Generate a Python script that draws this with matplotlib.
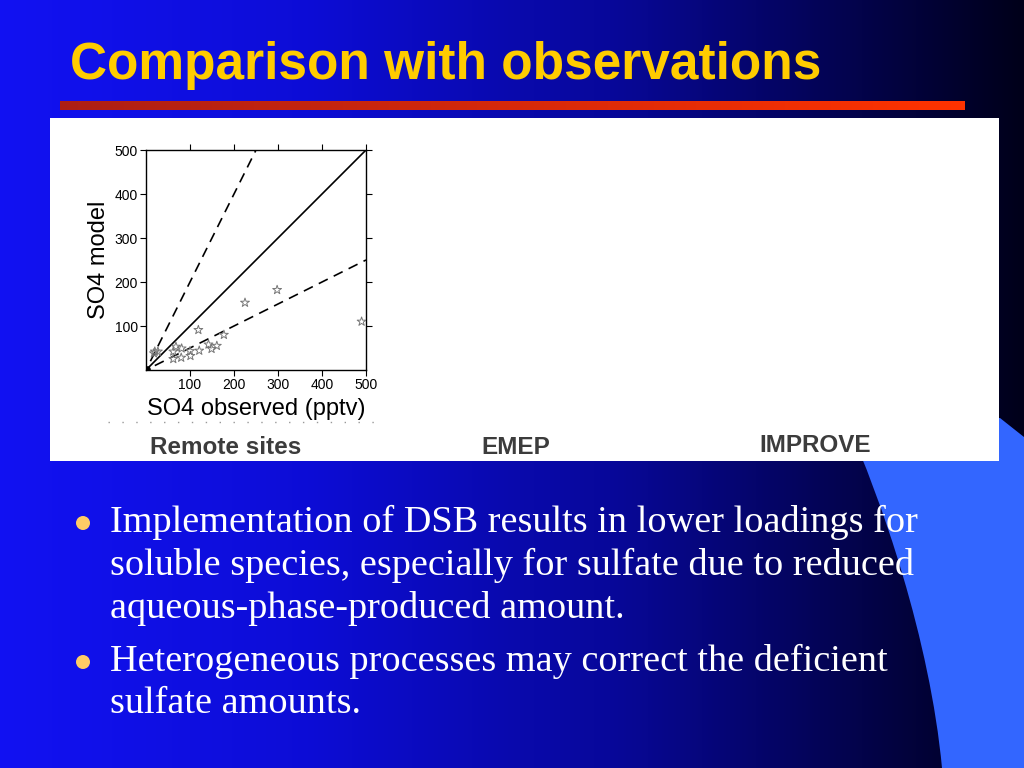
import numpy as np
import matplotlib.pyplot as plt
from matplotlib.patches import Rectangle, Circle, PathPatch
from matplotlib.path import Path

# remote-site sulfate, observed vs model (pptv)
so4_obs = [18, 27, 20, 62, 80, 62, 68, 81, 100, 101, 121, 119, 142, 149, 161, 177, 225, 298, 490]
so4_mod = [38, 42, 42, 25, 28, 42, 53, 49, 43, 32, 44, 91, 58, 48, 55, 80, 153, 182, 110]
zero_obs = [2]
zero_mod = [2]
ticks = [100, 200, 300, 400, 500]

title = "Comparison with observations"
panel_labels = ["Remote sites", "EMEP", "IMPROVE"]
bullets = [
    ["Implementation of DSB results in lower loadings for",
     "soluble species, especially for sulfate due to reduced",
     "aqueous-phase-produced amount."],
    ["Heterogeneous processes may correct the deficient",
     "sulfate amounts."],
]

W, H = 1024, 768
fig = plt.figure(figsize=(W / 100, H / 100), dpi=100)

# slide background, in pixel coordinates
bg = fig.add_axes([0, 0, 1, 1])
bg.set_xlim(0, W)
bg.set_ylim(H, 0)
bg.axis('off')

xs = np.linspace(0, 1, 512)
blue = np.interp(xs, [0, 0.3, 0.6, 0.85, 1], [0.95, 0.84, 0.6, 0.28, 0.1])
red = np.interp(xs, [0, 0.3, 0.6, 1], [0.07, 0.05, 0.03, 0.0])
grad = np.zeros((2, 512, 3))
grad[:, :, 0] = red
grad[:, :, 1] = red
grad[:, :, 2] = blue
bg.imshow(grad, extent=[0, W, H, 0], aspect='auto', zorder=0)

# light blue swoosh on the right
verts = [(845, 418), (882, 500), (930, 640), (942, 768),
         (1024, 768), (1024, 437), (1000, 418), (845, 418)]
codes = [Path.MOVETO, Path.CURVE4, Path.CURVE4, Path.CURVE4,
         Path.LINETO, Path.LINETO, Path.LINETO, Path.CLOSEPOLY]
bg.add_patch(PathPatch(Path(verts, codes), facecolor='#3366ff', edgecolor='none', zorder=1))

# red title bar
t = np.linspace(0, 1, 256)
bar = np.zeros((2, 256, 3))
bar[:, :, 0] = np.interp(t, [0, 1], [0.68, 1.0])
bar[:, :, 1] = np.interp(t, [0, 1], [0.12, 0.2])
bar[:, :, 2] = np.interp(t, [0, 1], [0.08, 0.0])
bg.imshow(bar, extent=[60, 965, 110, 101], aspect='auto', zorder=2)

bg.text(70, 65, title, color='#ffcc00', fontsize=37, fontweight='bold',
        family='Liberation Sans', va='center', ha='left', zorder=3)

# white figure panel
bg.add_patch(Rectangle((50, 118), 949, 343, facecolor='white', edgecolor='none', zorder=2))
bg.plot([108, 375], [422, 422], color='#999999', linestyle=(0, (1, 9)), linewidth=1, zorder=3)
for lab, x, y in zip(panel_labels, [226, 516, 815], [448, 447, 445]):
    bg.text(x, y, lab, color='#3c3c3c', fontsize=17.5, fontweight='bold',
            family='Liberation Sans', ha='center', va='center', zorder=3)

# bullets
line_h = 43
y0 = [522, 661]
for block, yb in zip(bullets, y0):
    bg.add_patch(Circle((83, yb + 1), 7, facecolor='#ffcc66', edgecolor='none', zorder=3))
    for i, line in enumerate(block):
        bg.text(110, yb + i * line_h, line, color='white', fontsize=27.5,
                family='Liberation Serif', ha='left', va='center', zorder=3)

# scatter plot
ax = fig.add_axes([146 / W, (H - 370) / H, 220 / W, 220 / H])
ax.set_xlim(0, 500)
ax.set_ylim(0, 500)
ax.plot([0, 500], [0, 500], color='black', linewidth=1.2)
ax.plot([10, 250], [20, 500], color='black', linewidth=1.2, dashes=(6, 4))
ax.plot([20, 500], [10, 250], color='black', linewidth=1.2, dashes=(6, 4))
ax.scatter(so4_obs, so4_mod, marker='*', s=45, facecolors='none', edgecolors='#777777',
           linewidths=0.7, zorder=3)
ax.scatter(zero_obs, zero_mod, marker='o', s=14, color='black', zorder=4)
ax.set_xticks(ticks)
ax.set_yticks(ticks)
ax.tick_params(direction='out', length=4, width=0.8, labelsize=10, pad=2,
               top=True, right=True, labeltop=False, labelright=False)
for lab in ax.get_xticklabels() + ax.get_yticklabels():
    lab.set_family('Liberation Sans')
ax.set_xlabel("SO4 observed (pptv)", fontsize=17, family='Liberation Sans', labelpad=4)
ax.set_ylabel("SO4 model", fontsize=17, family='Liberation Sans', labelpad=3)
for s in ax.spines.values():
    s.set_linewidth(1.0)

fig.savefig("out.png", dpi=100)
